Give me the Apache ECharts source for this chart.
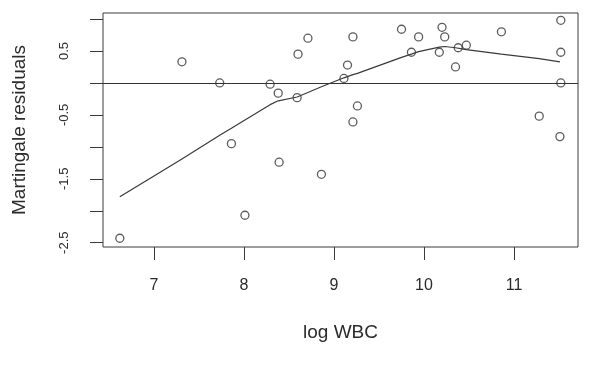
<!DOCTYPE html>
<html>
<head>
<meta charset="utf-8">
<script src="https://cdn.jsdelivr.net/npm/echarts@6/dist/echarts.min.js"></script>
<style>html,body{margin:0;padding:0;background:#fff;}#c{width:599px;height:366px;}</style>
</head>
<body>
<div id="c"></div>
<script>
const logWBC = [6.62, 7.31, 7.73, 7.86, 8.01, 8.29, 8.38, 8.39, 8.59, 8.60, 8.71, 8.86, 9.11, 9.15, 9.21, 9.21, 9.26, 9.75, 9.86, 9.94, 10.17, 10.20, 10.23, 10.35, 10.38, 10.47, 10.86, 11.28, 11.51, 11.52, 11.52, 11.52];
const residuals = [-2.43, 0.33, 0.0, -0.95, -2.07, -0.02, -0.16, -1.24, -0.23, 0.45, 0.70, -1.43, 0.07, 0.28, 0.72, -0.61, -0.36, 0.84, 0.48, 0.72, 0.48, 0.87, 0.72, 0.25, 0.55, 0.59, 0.80, -0.52, -0.84, 0.98, 0.48, 0.0];
const smoothX = [6.62, 7.31, 7.73, 7.86, 8.01, 8.29, 8.38, 8.59, 8.71, 8.86, 9.11, 9.21, 9.26, 9.75, 9.86, 9.94, 10.17, 10.23, 10.35, 10.47, 10.86, 11.28, 11.51];
const smoothY = [-1.78, -1.19, -0.82, -0.71, -0.58, -0.34, -0.28, -0.22, -0.15, -0.06, 0.08, 0.13, 0.15, 0.40, 0.45, 0.49, 0.56, 0.57, 0.55, 0.52, 0.45, 0.38, 0.33];
const xTicks = [7, 8, 9, 10, 11];
const yTicks = [-2.5, -2, -1.5, -1, -0.5, 0, 0.5, 1];
const yTickLabels = [-2.5, -1.5, -0.5, 0.5];
const xTitle = 'log WBC';
const yTitle = 'Martingale residuals';

const chart = echarts.init(document.getElementById('c'), null, {renderer: 'canvas'});
const ink = '#2b2b2b';
const font = 'Liberation Sans, Arial, sans-serif';
chart.setOption({
  animation: false,
  backgroundColor: '#ffffff',
  grid: {left: 103, top: 13, right: 21, bottom: 119, show: true, borderColor: '#3a3a3a', borderWidth: 1, backgroundColor: 'transparent'},
  xAxis: {
    type: 'value', min: 6.433, max: 11.711,
    name: xTitle, nameLocation: 'middle', nameGap: 76,
    nameTextStyle: {fontFamily: font, fontSize: 19, color: ink},
    axisLine: {show: false, onZero: false},
    axisTick: {show: true, inside: false, length: 13, customValues: xTicks, lineStyle: {color: '#3a3a3a', width: 1}},
    axisLabel: {customValues: xTicks, margin: 31, fontFamily: font, fontSize: 16, color: ink},
    splitLine: {show: false}
  },
  yAxis: {
    type: 'value', min: -2.567, max: 1.094,
    name: yTitle, nameLocation: 'middle', nameGap: 74, nameRotate: 90,
    nameTextStyle: {fontFamily: font, fontSize: 19, color: ink},
    axisLine: {show: false, onZero: false},
    axisTick: {show: true, inside: false, length: 13, customValues: yTicks, lineStyle: {color: '#3a3a3a', width: 1}},
    axisLabel: {customValues: yTickLabels, rotate: 90, margin: 32, fontFamily: font, fontSize: 13, color: ink,
      formatter: v => String(v)},
    splitLine: {show: false}
  },
  series: [
    {
      type: 'scatter',
      data: logWBC.map((x, i) => [x, residuals[i]]),
      symbol: 'circle', symbolSize: 8,
      itemStyle: {color: 'rgba(255,255,255,0)', borderColor: '#333', borderWidth: 1.3},
      markLine: {
        silent: true, symbol: 'none', label: {show: false},
        lineStyle: {color: '#333', width: 1.2, type: 'solid'},
        data: [{yAxis: 0}]
      }
    },
    {
      type: 'line',
      data: smoothX.map((x, i) => [x, smoothY[i]]),
      showSymbol: false, symbol: 'none',
      lineStyle: {color: '#3a3a3a', width: 1.2}
    }
  ]
});
</script>
</body>
</html>
